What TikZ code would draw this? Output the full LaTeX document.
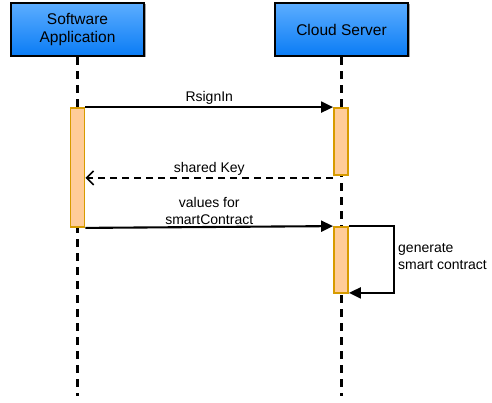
\documentclass[tikz,border=0pt]{standalone}
\usepackage{fontspec}
\setmainfont{Liberation Sans}
\usetikzlibrary{arrows.meta,shadows,positioning}
\definecolor{actfill}{HTML}{FFCC99}
\definecolor{actedge}{HTML}{D79B00}
\definecolor{headtop}{HTML}{5CADFF}
\definecolor{headbot}{HTML}{0A7CF5}
\begin{document}
\begin{tikzpicture}[x=1pt,y=-1pt,
  participant/.style={draw=black,line width=2.2pt,top color=headtop,bottom color=headbot,
    minimum width=133pt,minimum height=53pt,align=center,inner sep=0pt,
    font=\fontsize{15.5}{18}\selectfont,
    drop shadow={shadow xshift=1.5pt,shadow yshift=-1.5pt,fill=black!45,opacity=0.8}},
  lifeline/.style={line width=2.2pt,dash pattern=on 8pt off 6pt},
  activation/.style={draw=actedge,fill=actfill,line width=1.8pt,minimum width=14pt,inner sep=0pt},
  msg/.style={line width=2.1pt,-{Triangle[length=12pt,width=11pt]}},
  reply/.style={line width=2.1pt,dash pattern=on 7pt off 5pt,-{Straight Barb[length=7pt,width=14pt,line width=1.7pt]}},
  lbl/.style={font=\fontsize{14}{17}\selectfont,align=center,inner sep=0pt}
]
\useasboundingbox (0,0) rectangle (492,403);

% participants
\node[participant] (app) at (77.5,29.5) {Software\\Application};
\node[participant] (srv) at (341.5,29.5) {Cloud Server};

% lifelines
\coordinate (appEnd) at (77.5,396);
\coordinate (srvEnd) at (341.5,396);
\draw[lifeline] (app.south) -- (appEnd);
\draw[lifeline] (srv.south) -- (srvEnd);

% activation bars
\node[activation,minimum height=119pt] (actA) at (77.5,167.5) {};
\node[activation,minimum height=67pt] (actS1) at (341,141.5) {};
\node[activation,minimum height=66pt] (actS2) at (341,260) {};

% messages
\draw[msg] (actA.north east) -- (actS1.north west)
  node[lbl,midway,above=2pt] (m1) {RsignIn};
\draw[reply] ([yshift=-2pt]actS1.south west) -- ([yshift=-2pt]actA.east |- actS1.south)
  node[lbl,midway,above=1pt] (m2) {shared Key};
\draw[msg] (actA.south east) -- (actS2.north west)
  node[lbl,midway,above=1.5pt] (m3) {values for\\smartContract};
\draw[msg] (actS2.north east) -- ++(45,0) coordinate (loopTop)
  |- ([yshift=1pt]actS2.south east);
\node[lbl,align=left,anchor=west] (m4) at (398,257) {generate\\smart contract};
\end{tikzpicture}
\end{document}
